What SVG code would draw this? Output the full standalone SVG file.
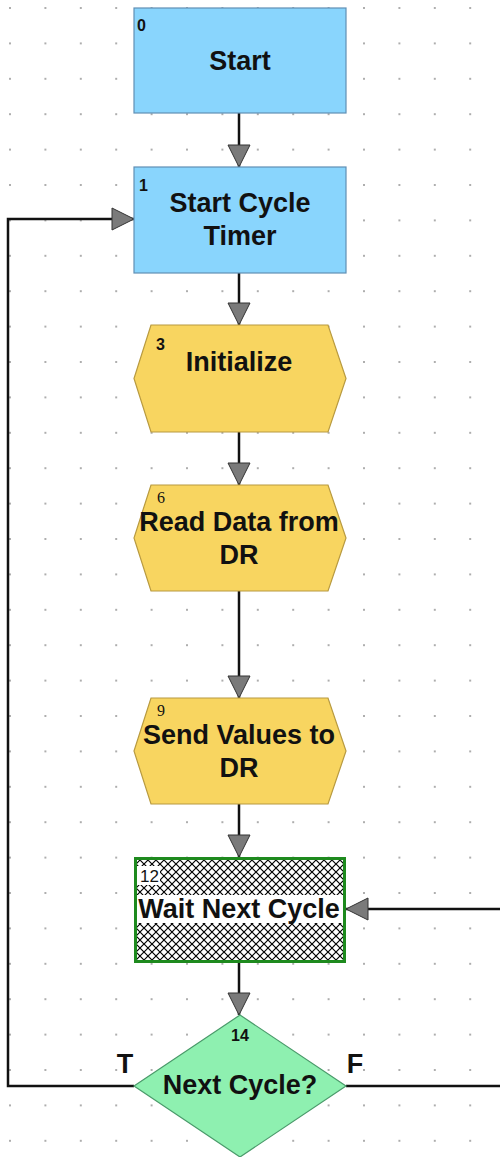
<svg xmlns="http://www.w3.org/2000/svg" width="500" height="1157" viewBox="0 0 500 1157">
<defs>
<pattern id="grid" patternUnits="userSpaceOnUse" x="-7.7" y="-9.7" width="35.4" height="35.4">
<circle cx="17.7" cy="17.7" r="0.8" fill="#444"/>
</pattern>
<pattern id="hatch" patternUnits="userSpaceOnUse" x="0" y="0" width="8" height="8">
<rect width="8" height="8" fill="#fff"/>
<path d="M0,0 L8,8 M8,0 L0,8" stroke="#000" stroke-width="1.2"/>
</pattern>
<marker id="arr" markerUnits="userSpaceOnUse" markerWidth="24" markerHeight="24" refX="22" refY="11" orient="auto" viewBox="-1 -1 24 24">
<path d="M0,0 L22,11 L0,22 Z" fill="#7a7a7a" stroke="#333" stroke-width="1"/>
</marker>
<style>
.blue{fill:#89D5FD;stroke:#5f8fb5;stroke-width:1.2}
.yel{fill:#F8D560;stroke:#b89a40;stroke-width:1.2}
.grn{fill:#8EF0B0;stroke:#4a9a6a;stroke-width:1.2}
.lbl{font-family:"Liberation Sans",Arial,sans-serif;font-weight:bold;font-size:27px;fill:#111;text-anchor:middle}
.num{font-family:"Liberation Sans",Arial,sans-serif;font-weight:bold;font-size:16px;fill:#111}
.numserif{font-family:"Liberation Serif","Times New Roman",serif;font-size:16px;fill:#111}
.conn{fill:none;stroke:#111;stroke-width:2.5}
</style>
</defs>
<rect width="500" height="1157" fill="#fff"/>
<rect width="500" height="1157" fill="url(#grid)"/>
<g id="connectors">
<path class="conn" d="M239,113 V167" marker-end="url(#arr)"/>
<path class="conn" d="M239,273 V325" marker-end="url(#arr)"/>
<path class="conn" d="M239,432 V485" marker-end="url(#arr)"/>
<path class="conn" d="M239,591 V698" marker-end="url(#arr)"/>
<path class="conn" d="M239,804 V857" marker-end="url(#arr)"/>
<path class="conn" d="M239,963 V1015" marker-end="url(#arr)"/>
<path class="conn" d="M134,1086 H8 V219 H134" marker-end="url(#arr)"/>
<path class="conn" d="M346,1086 H503 V909 H346" marker-end="url(#arr)"/>
<text class="lbl" x="125" y="1073">T</text>
<text class="lbl" x="355" y="1073">F</text>
</g>
<g id="node0">
<rect class="blue" x="134" y="8" width="212" height="105"/>
<text class="num" x="137" y="31">0</text>
<text class="lbl" x="240" y="70">Start</text>
</g>
<g id="node1">
<rect class="blue" x="134" y="167" width="212" height="106"/>
<text class="num" x="139" y="191">1</text>
<text class="lbl" x="240" y="212">Start Cycle</text>
<text class="lbl" x="240" y="245">Timer</text>
</g>
<g id="node3">
<polygon class="yel" points="151,325 328,325 346,378.5 328,432 151,432 134,378.5"/>
<text class="num" x="156" y="350" font-weight="normal">3</text>
<text class="lbl" x="239" y="371">Initialize</text>
</g>
<g id="node6">
<polygon class="yel" points="151,485 328,485 346,538 328,591 151,591 134,538"/>
<text class="numserif" x="157" y="503">6</text>
<text class="lbl" x="239" y="531">Read Data from</text>
<text class="lbl" x="239" y="564">DR</text>
</g>
<g id="node9">
<polygon class="yel" points="151,698 328,698 346,751 328,804 151,804 134,751"/>
<text class="numserif" x="157" y="716">9</text>
<text class="lbl" x="239" y="744">Send Values to</text>
<text class="lbl" x="239" y="777">DR</text>
</g>
<g id="node12">
<rect x="135.5" y="858.5" width="209" height="103" fill="url(#hatch)" stroke="#1e8a1e" stroke-width="3"/>
<rect x="137" y="866" width="23" height="19" fill="#fff"/>
<rect x="137" y="895" width="206" height="28" fill="#fff"/>
<text x="140" y="882" font-family="'Liberation Sans',Arial,sans-serif" font-size="17" fill="#111">12</text>
<text class="lbl" x="239" y="918">Wait Next Cycle</text>
</g>
<g id="node14">
<polygon class="grn" points="240,1015 346,1086 240,1157 134,1086"/>
<text class="num" x="240" y="1041" text-anchor="middle">14</text>
<text class="lbl" x="240" y="1094">Next Cycle?</text>
</g>
</svg>
